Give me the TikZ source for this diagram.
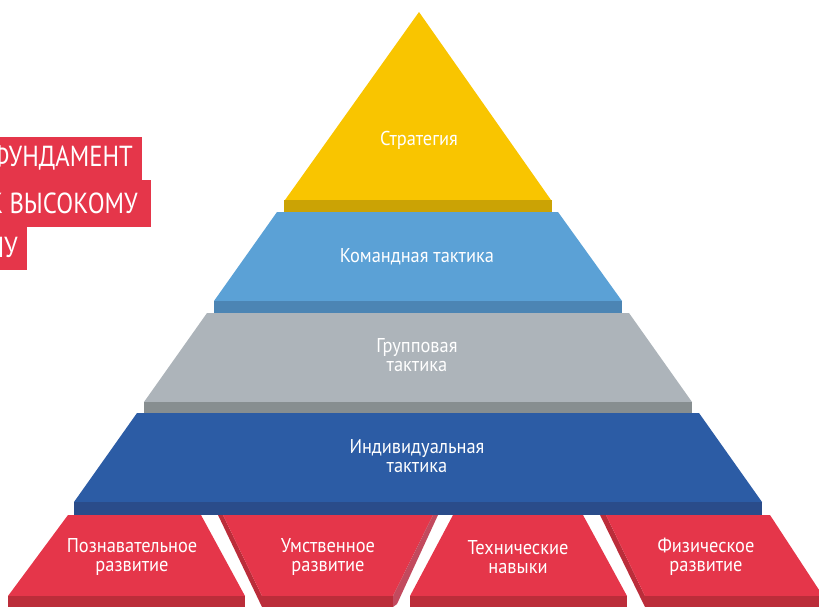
\documentclass[tikz,border=0pt]{standalone}
\usepackage{fontspec}
\setmainfont{PT Sans}[FakeStretch=0.92]
\newfontfamily\headfont{PT Sans}[FakeStretch=0.85]
\definecolor{goldf}{HTML}{F9C500}
\definecolor{goldd}{HTML}{CBA305}
\definecolor{lbluef}{HTML}{5BA1D6}
\definecolor{lblued}{HTML}{4C85B4}
\definecolor{grayf}{HTML}{ADB4BA}
\definecolor{grayd}{HTML}{878E90}
\definecolor{dbluef}{HTML}{2C5CA5}
\definecolor{dblued}{HTML}{2A4C8A}
\definecolor{redf}{HTML}{E5364A}
\definecolor{redd}{HTML}{BB2D3A}
\definecolor{redl}{HTML}{C24A5E}
\begin{document}
\begin{tikzpicture}[x=1pt,y=-1pt,
  lbl/.style={text=white, font=\fontsize{20}{19}\selectfont, align=center, inner sep=0pt},
  headtxt/.style={text=white, font=\headfont\fontsize{29}{30}\selectfont, inner sep=0pt, anchor=base east}]
\useasboundingbox (0,0) rectangle (819,607);
\begin{scope}
\clip (0,0) rectangle (819,607);
% left heading block
\fill[redf] (0,137) rectangle (142,180);
\fill[redf] (0,180) rectangle (151,227);
\fill[redf] (0,227) rectangle (27,270);
\node[headtxt] (h1) at (133,167) {ФУНДАМЕНТ};
\node[headtxt] (h2) at (138,213) {К ВЫСОКОМУ};
\node[headtxt] (h3) at (18,257) {ЛУ};
% pyramid
\fill[goldf] (419,12) -- (551,200) -- (285,200) -- cycle;
\fill[goldd] (284,200) rectangle (552,212);
\fill[lbluef] (277,212) -- (558,212) -- (622,301) -- (214,301) -- cycle;
\fill[lblued] (214,301) rectangle (622,313);
\fill[grayf] (207,313) -- (629,313) -- (692,402) -- (144,402) -- cycle;
\fill[grayd] (144,402) rectangle (692,413);
\fill[dbluef] (137,413) -- (699,413) -- (762,502) -- (74,502) -- cycle;
\fill[dblued] (74,502) rectangle (762,515);
% base blocks
\fill[redf] (68,515) -- (201,515) -- (245,596) -- (8,596) -- cycle;
\fill[redd] (8,596) rectangle (245,607);
\fill[redd] (218,515) -- (223,515) -- (262,596) -- (262,607) -- cycle;
\fill[redf] (223,515) -- (433,515) -- (393,596) -- (262,596) -- cycle;
\fill[redl] (433,515) -- (438,515) -- (397,604) -- (393,607) -- (393,596) -- cycle;
\fill[redd] (262,596) rectangle (393,607);
\fill[redf] (453,515) -- (583,515) -- (627,596) -- (410,596) -- cycle;
\fill[redd] (410,596) rectangle (627,607);
\fill[redd] (600,515) -- (606,515) -- (645,596) -- (645,607) -- cycle;
\fill[redf] (606,515) -- (770,515) -- (823,596) -- (645,596) -- cycle;
\fill[redd] (645,596) rectangle (825,607);
\end{scope}
% labels
\node[lbl] (s) at (419,140) {Стратегия};
\node[lbl] (k) at (417,257) {Командная тактика};
\node[lbl] (g) at (417,355) {Групповая\\тактика};
\node[lbl] (i) at (417,456) {Индивидуальная\\тактика};
\node[lbl] (p) at (132,557) {Познавательное\\развитие};
\node[lbl] (u) at (328,557) {Умственное\\развитие};
\node[lbl] (t) at (518,557) {Технические\\навыки};
\node[lbl] (f) at (706,557) {Физическое\\развитие};
\end{tikzpicture}
\end{document}
